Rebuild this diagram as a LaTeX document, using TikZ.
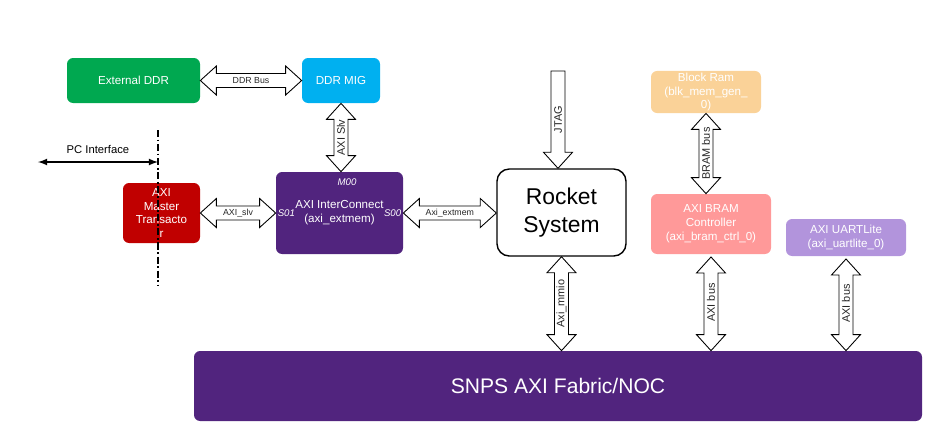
\documentclass[tikz,border=0pt]{standalone}
\usepackage{fontspec}
\setmainfont{Liberation Sans}
\usepackage{xcolor}
\usetikzlibrary{calc}
\usetikzlibrary{arrows}

\definecolor{extgreen}{RGB}{0,168,80}
\definecolor{migblue}{RGB}{0,176,240}
\definecolor{mastred}{RGB}{192,0,0}
\definecolor{snpspurple}{RGB}{81,36,126}
\definecolor{bramorange}{RGB}{250,210,152}
\definecolor{ctrlpink}{RGB}{255,153,153}
\definecolor{uartlilac}{RGB}{178,148,220}

\newcommand{\headlen}{0.32cm}
\newcommand{\headhalf}{0.29cm}
\newcommand{\shafthalf}{0.14cm}

\begin{document}
\begin{tikzpicture}[
	blockarrow/.style={draw=black,fill=white,line width=0.5pt},
	hdouble/.style={blockarrow,to path={let \p1=(\tikztostart), \p2=(\tikztotarget) in
		(\x1,\y1) -- (\x1+\headlen,\y1+\headhalf) -- (\x1+\headlen,\y1+\shafthalf) -- (\x2-\headlen,\y1+\shafthalf) -- (\x2-\headlen,\y1+\headhalf) -- (\x2,\y1)
		-- (\x2-\headlen,\y1-\headhalf) -- (\x2-\headlen,\y1-\shafthalf) -- (\x1+\headlen,\y1-\shafthalf) -- (\x1+\headlen,\y1-\headhalf) -- cycle}},
	vdouble/.style={blockarrow,to path={let \p1=(\tikztostart), \p2=(\tikztotarget) in
		(\x1,\y1) -- (\x1+\headhalf,\y1-\headlen) -- (\x1+\shafthalf,\y1-\headlen) -- (\x1+\shafthalf,\y2+\headlen) -- (\x1+\headhalf,\y2+\headlen) -- (\x1,\y2)
		-- (\x1-\headhalf,\y2+\headlen) -- (\x1-\shafthalf,\y2+\headlen) -- (\x1-\shafthalf,\y1-\headlen) -- (\x1-\headhalf,\y1-\headlen) -- cycle}},
	vsingle/.style={blockarrow,to path={let \p1=(\tikztostart), \p2=(\tikztotarget) in
		(\x1-\shafthalf,\y1) -- (\x1+\shafthalf,\y1) -- (\x1+\shafthalf,\y2+\headlen) -- (\x1+\headhalf,\y2+\headlen) -- (\x1,\y2)
		-- (\x1-\headhalf,\y2+\headlen) -- (\x1-\shafthalf,\y2+\headlen) -- cycle}}]
	%\draw[help lines] (0,0) grid (19,-9);
	\useasboundingbox (0,0) rectangle (18.78,-8.56);
	\tikzstyle{ipbox} = [rounded corners=3.5pt,inner sep=1pt,text=white,align=center,font=\fontsize{6.6}{7.9}\selectfont]
	\tikzstyle{buslabel} = [inner sep=0pt,text=black!85,font=\fontsize{5}{6}\selectfont]
	\tikzstyle{vbuslabel} = [inner sep=0pt,text=black!85,rotate=90,font=\fontsize{6.2}{7}\selectfont]
	\tikzstyle{portlabel} = [inner sep=1pt,text=white,font=\itshape\fontsize{5.5}{6}\selectfont]
	\tikzstyle{pcedge} = [<->,>=latex,thick]

	\node[ipbox,fill=extgreen,minimum width=2.66cm,minimum height=0.9cm] (extddr) at (2.67,-1.61) {External DDR};
	\node[ipbox,fill=migblue,minimum width=1.56cm,minimum height=0.9cm] (mig) at (6.82,-1.61) {DDR MIG};
	\node[ipbox,fill=mastred,minimum width=1.54cm,minimum height=1.2cm] (master) at (3.23,-4.26) {AXI\\Master\\Transacto\\r};
	\node[ipbox,fill=snpspurple,minimum width=2.54cm,minimum height=1.64cm] (ic) at (6.79,-4.26) {AXI InterConnect\\(axi\_extmem)};
	\node[draw=black,line width=0.8pt,rounded corners=7pt,fill=white,align=center,minimum width=2.58cm,minimum height=1.74cm,
		font=\fontsize{13}{16}\selectfont] (rocket) at (11.23,-4.25) {Rocket\\System};
	\node[ipbox,fill=bramorange,minimum width=2.2cm,minimum height=0.76cm] (bram) at (14.12,-1.84) {Block Ram\\(blk\_mem\_gen\_\\0)};
	\node[ipbox,fill=ctrlpink,minimum width=2.4cm,minimum height=1.2cm] (bramctrl) at (14.22,-4.48) {AXI BRAM\\Controller\\(axi\_bram\_ctrl\_0)};
	\node[ipbox,fill=uartlilac,minimum width=2.4cm,minimum height=0.74cm] (uart) at (16.92,-4.75) {AXI UARTLite\\(axi\_uartlite\_0)};
	\node[ipbox,fill=snpspurple,minimum width=14.56cm,minimum height=1.4cm,font=\fontsize{12}{14}\selectfont] (noc) at (11.16,-7.72) {SNPS AXI Fabric/NOC};

	% ports of the interconnect
	\node[portlabel,below=3pt] at ([xshift=0.15cm]ic.north) {M00};
	\node[portlabel,right] at (ic.west) {S01};
	\node[portlabel,left] at (ic.east) {S00};

	\draw[hdouble] (extddr.east) to (mig.west);
	\path (extddr.east) -- node[buslabel] {DDR Bus} (mig.west);

	\draw[vdouble] (mig.south) to (ic.north);
	\path (mig.south) -- node[vbuslabel] {AXI Slv} (mig.south |- ic.north);

	\draw[hdouble] (master.east) to (ic.west);
	\path (master.east) -- node[buslabel] {AXI\_slv} (ic.west);

	\draw[hdouble] (ic.east) to (rocket.west);
	\path (ic.east) -- node[buslabel] {Axi\_extmem} (rocket.west);

	\coordinate (jtag) at (11.16,-1.42);
	\draw[vsingle] (jtag) to (jtag |- rocket.north);
	\path (jtag) -- node[vbuslabel] {JTAG} (jtag |- rocket.north);

	\draw[vdouble] (bram.south) to (bram.south |- bramctrl.north);
	\path (bram.south) -- node[vbuslabel] {BRAM bus} (bram.south |- bramctrl.north);

	\draw[vdouble] (rocket.south) to (rocket.south |- noc.north);
	\path (rocket.south) -- node[vbuslabel] {Axi\_mmio} (rocket.south |- noc.north);

	\draw[vdouble] ([yshift=-1.5pt]bramctrl.south) to (bramctrl.south |- noc.north);
	\path (bramctrl.south) -- node[vbuslabel] {AXI bus} (bramctrl.south |- noc.north);

	\draw[vdouble] ([yshift=-1.5pt]uart.south) to (uart.south |- noc.north);
	\path (uart.south) -- node[vbuslabel] {AXI bus} (uart.south |- noc.north);

	% PC side boundary
	\coordinate (pctop) at (3.16,-2.6);
	\coordinate (pcbot) at (3.16,-5.7);
	\coordinate (pcleft) at (0.76,-3.24);
	\draw[line width=0.6pt,dash pattern=on 4pt off 1.5pt on 1pt off 1.5pt] (pctop) -- (pcbot);
	\draw[pcedge] (pcleft) -- node[above=1pt,font=\fontsize{6.4}{7}\selectfont] {PC Interface} (pcleft -| pctop);
\end{tikzpicture}
\end{document}
